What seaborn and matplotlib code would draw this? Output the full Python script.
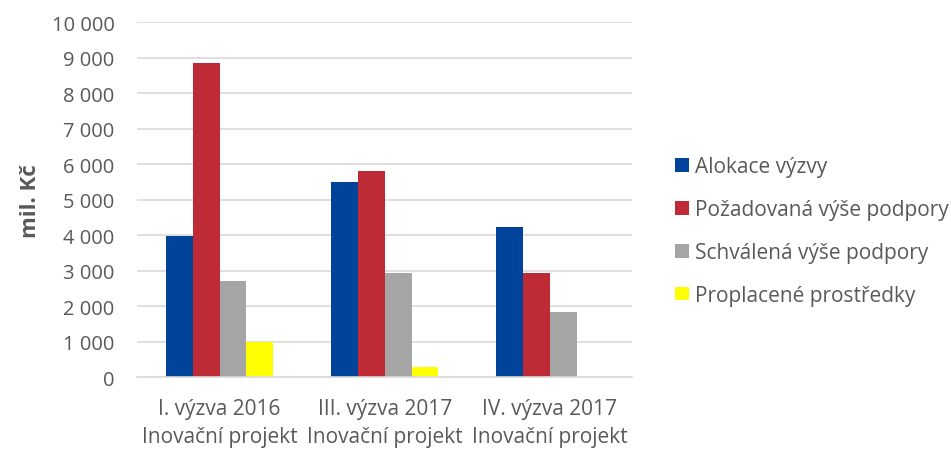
import matplotlib
matplotlib.use("Agg")
import matplotlib.pyplot as plt
import seaborn as sns
import pandas as pd
from matplotlib.ticker import FuncFormatter

categories = ["I. výzva 2016\nInovační projekt",
              "III. výzva 2017\nInovační projekt",
              "IV. výzva 2017\nInovační projekt"]
series = ["Alokace výzvy", "Požadovaná výše podpory",
          "Schválená výše podpory", "Proplacené prostředky"]
alokace = [3980, 5500, 4220]
pozadovana = [8850, 5810, 2925]
schvalena = [2700, 2935, 1845]
proplacene = [990, 295, 0]
colors = ["#00439A", "#BE2A35", "#A5A5A5", "#FFFF00"]

rows = []
for name, vals in zip(series, [alokace, pozadovana, schvalena, proplacene]):
    for c, v in zip(categories, vals):
        rows.append({"cat": c, "series": name, "value": v})
df = pd.DataFrame(rows)

sns.set_theme(style="white")
plt.rcParams["font.family"] = ["Open Sans", "DejaVu Sans"]
txt = "#595959"

fig = plt.figure(figsize=(9.51, 4.52), dpi=100)
ax = fig.add_axes([0.144, 0.163, 0.521, 0.786])
sns.barplot(data=df, x="cat", y="value", hue="series", palette=colors,
            width=0.65, ax=ax, saturation=1, edgecolor="none")
ax.set_ylim(0, 10000)
ax.set_yticks(range(0, 10001, 1000))
ax.yaxis.set_major_formatter(FuncFormatter(lambda v, p: f"{int(v):,}".replace(",", " ")))
ax.grid(axis="y", color="#D9D9D9", linewidth=1.2)
ax.set_axisbelow(True)
for s in ["top", "right", "left"]:
    ax.spines[s].set_visible(False)
ax.spines["bottom"].set_color("#D9D9D9")
ax.spines["bottom"].set_linewidth(1.2)
ax.tick_params(axis="y", length=0, colors=txt, labelsize=14.5, pad=16)
ax.tick_params(axis="x", length=0, colors=txt, labelsize=15, pad=15)
for lab in ax.get_xticklabels():
    lab.set_linespacing(1.45)
ax.set_xlabel("")
ax.set_ylabel("mil. Kč", fontsize=16, fontweight="bold", color=txt, labelpad=8)

leg = fig.legend(*ax.get_legend_handles_labels(), loc="center left",
                 bbox_to_anchor=(675 / 951, 1 - 232 / 452), frameon=False,
                 fontsize=15, labelspacing=1.05, handlelength=0.65, handleheight=0.65,
                 handletextpad=0.3, borderpad=0, borderaxespad=0)
ax.get_legend().remove()
for t in leg.get_texts():
    t.set_color(txt)

fig.savefig("out.png", dpi=100)
